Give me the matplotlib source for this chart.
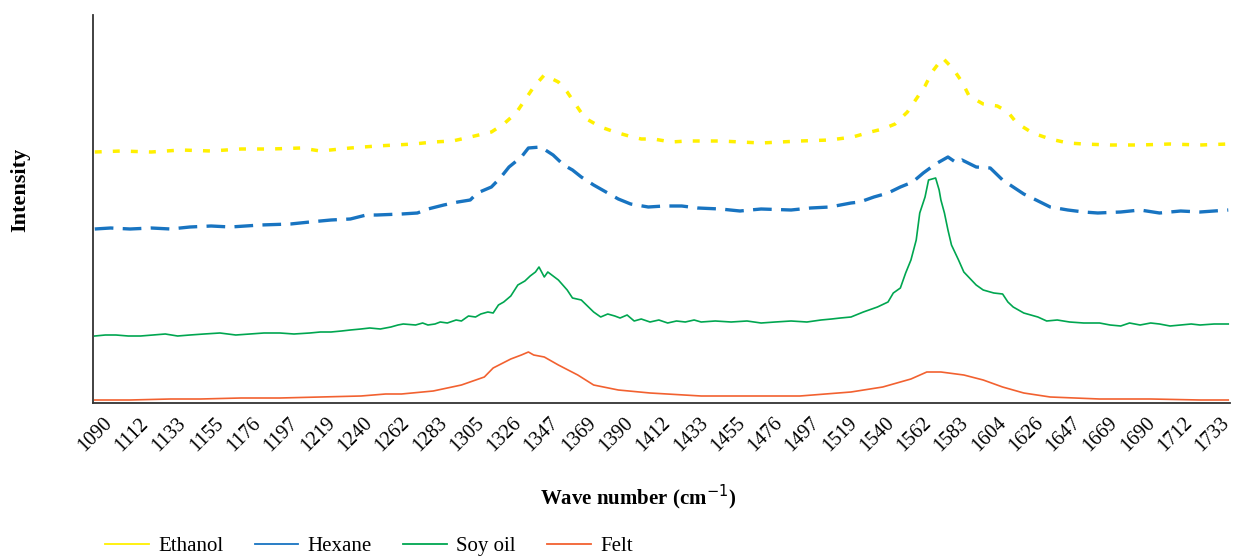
import matplotlib
matplotlib.use("Agg")
import matplotlib.pyplot as plt
from matplotlib.lines import Line2D
import numpy as np

plt.rcParams['font.family'] = ['Liberation Serif', 'DejaVu Serif']

tick_labels = ["1090", "1112", "1133", "1155", "1176", "1197", "1219", "1240", "1262", "1283",
               "1305", "1326", "1347", "1369", "1390", "1412", "1433", "1455", "1476", "1497",
               "1519", "1540", "1562", "1583", "1604", "1626", "1647", "1669", "1690", "1712", "1733"]

ethanol_wn = [1090, 1105, 1122, 1139, 1156, 1173, 1190, 1207, 1218, 1235, 1250, 1271, 1282, 1293,
              1303, 1315, 1322, 1329, 1334, 1339, 1345, 1353, 1358, 1363, 1368, 1377, 1385, 1393,
              1400, 1407, 1417, 1426, 1445, 1468, 1490, 1507, 1520, 1530, 1537, 1544, 1551, 1556,
              1561, 1565, 1571, 1577, 1582, 1586, 1594, 1602, 1608, 1613, 1622, 1632, 1642, 1651,
              1666, 1683, 1700, 1717, 1733]
ethanol_int = [249, 250, 249, 251, 250, 252, 252, 253, 250, 253, 255, 257, 259, 260,
               264, 269, 277, 288, 301, 314, 326, 319, 309, 296, 283, 274, 269, 265,
               262, 262, 259, 260, 260, 258, 260, 261, 264, 269, 272, 277, 289, 302,
               315, 329, 343, 332, 319, 305, 297, 295, 289, 278, 268, 262, 258, 257,
               256, 256, 257, 256, 257]

hexane_wn = [1090, 1099, 1110, 1122, 1133, 1144, 1156, 1167, 1184, 1201, 1212, 1224, 1235, 1244,
             1250, 1264, 1273, 1279, 1288, 1296, 1303, 1307, 1315, 1320, 1325, 1332, 1336, 1343,
             1350, 1356, 1361, 1366, 1373, 1381, 1387, 1394, 1404, 1413, 1423, 1432, 1445, 1456,
             1468, 1485, 1496, 1507, 1519, 1524, 1532, 1540, 1547, 1554, 1560, 1567, 1574, 1579,
             1582, 1590, 1598, 1605, 1611, 1617, 1624, 1632, 1642, 1651, 1659, 1672, 1683, 1694,
             1706, 1717, 1733]
hexane_int = [172, 173, 172, 173, 172, 174, 175, 174, 176, 177, 179, 181, 182, 186,
              186, 187, 188, 192, 196, 199, 201, 208, 214, 223, 234, 244, 253, 254,
              246, 236, 231, 224, 216, 208, 202, 197, 194, 195, 195, 193, 192, 190,
              192, 191, 193, 194, 198, 199, 204, 208, 214, 219, 228, 237, 244, 238,
              241, 234, 233, 221, 214, 207, 201, 194, 191, 189, 188, 189, 191, 188,
              190, 189, 191]

soy_wn = [1090, 1096, 1102, 1109, 1116, 1123, 1130, 1137, 1144, 1152, 1161, 1170, 1178, 1186,
          1195, 1203, 1212, 1218, 1224, 1230, 1235, 1241, 1246, 1252, 1258, 1262, 1265,
          1272, 1276, 1279, 1283, 1286, 1290, 1295, 1298, 1302, 1306, 1309, 1313, 1316,
          1319, 1322, 1326, 1330, 1334, 1337, 1340, 1342,
          1345, 1347, 1353, 1358, 1361, 1366, 1373, 1377, 1381, 1385, 1388, 1392, 1396, 1400,
          1405, 1410, 1415, 1420, 1425, 1430,
          1434, 1442, 1451, 1460, 1468, 1476, 1485, 1494, 1502, 1508, 1513, 1519, 1526, 1534,
          1540, 1543, 1547, 1550, 1553,
          1556, 1558, 1561, 1563, 1567, 1569, 1570, 1572, 1574, 1576, 1580, 1583, 1590, 1594,
          1600, 1605, 1608, 1611, 1617, 1625, 1630, 1636, 1643, 1651, 1660, 1666, 1672, 1677,
          1683, 1689, 1694, 1700, 1706, 1712, 1717, 1725, 1733]
soy_int = [65, 66, 66, 65, 65, 66, 67, 65, 66, 67, 68, 66, 67, 68,
           68, 67, 68, 69, 69, 70, 71, 72, 73, 72, 74, 76, 77,
           76, 78, 76, 77, 79, 78, 81, 80, 85, 84, 87, 89, 88,
           96, 99, 105, 116, 120, 125, 129, 134,
           124, 129, 121, 111, 103, 101, 89, 84, 87, 85, 83, 86, 80, 82,
           79, 81, 78, 80, 79, 81,
           79, 80, 79, 80, 78, 79, 80, 79, 81, 82, 83, 84, 89, 94,
           99, 108, 113, 128, 141,
           161, 188, 204, 221, 223, 211, 201, 188, 171, 156, 141, 129, 116, 111,
           108, 107, 99, 94, 88, 84, 80, 81, 79, 78, 78, 76, 75, 78,
           76, 78, 77, 75, 76, 77, 76, 77, 77]

felt_wn = [1090, 1110, 1133, 1150, 1173, 1195, 1218, 1241, 1255, 1264, 1282, 1298, 1311, 1316,
           1326, 1332, 1336, 1339, 1345, 1353, 1364, 1373, 1387, 1405, 1434, 1462, 1490, 1519,
           1537, 1553, 1562, 1570, 1583, 1594, 1605, 1617, 1632, 1660, 1689, 1717, 1733]
felt_int = [1, 1, 2, 2, 3, 3, 4, 5, 7, 7, 10, 16, 24, 33,
            42, 46, 49, 46, 44, 36, 26, 16, 11, 8, 5, 5, 5, 9,
            14, 22, 29, 29, 26, 21, 14, 8, 4, 2, 2, 1, 1]

series_names = ["Ethanol", "Hexane", "Soy oil", "Felt"]
colors = ["#FFF000", "#1874C1", "#00A650", "#F26130"]

fig = plt.figure(figsize=(12.33, 5.56), dpi=100)
ax = fig.add_axes([93/1233, 1-403/556, (1230-93)/1233, (403-15)/556])

ax.plot(ethanol_wn, ethanol_int, color=colors[0], lw=2.5, dashes=(2.0, 3.2), dash_capstyle='butt')
ax.plot(hexane_wn, hexane_int, color=colors[1], lw=2.4, dashes=(5.6, 2.8), dash_capstyle='butt')
ax.plot(soy_wn, soy_int, color=colors[2], lw=1.2)
ax.plot(felt_wn, felt_int, color=colors[3], lw=1.2)

ax.set_xlim(1089, 1734)
ax.set_ylim(-2, 386)
ax.set_yticks([])
# labels are spread evenly across the axis, last one kept inside the plot area
ax.set_xticks(np.linspace(1090, 1724, len(tick_labels)))
ax.set_xticklabels(tick_labels, rotation=45, ha='center', va='center', rotation_mode='anchor', fontsize=14.5)
ax.tick_params(axis='x', length=0, pad=23)
for s in ['top', 'right']:
    ax.spines[s].set_visible(False)
for s in ['left', 'bottom']:
    ax.spines[s].set_color('#333333')
    ax.spines[s].set_linewidth(1.3)

fig.text(638/1233, 1-497/556, "Wave number (cm$^{-1}$)", ha='center', va='center', fontsize=15, fontweight='bold')
fig.text(20/1233, 1-190/556, "Intensity", ha='center', va='center', rotation=90, fontsize=16, fontweight='bold')

handles = [Line2D([0], [0], color=c, lw=1.3) for c in colors]
fig.legend(handles, series_names, loc='center left', bbox_to_anchor=(105/1233, 1-546/556),
           ncol=4, frameon=False, fontsize=15, handlelength=2.1, handletextpad=0.45,
           columnspacing=1.5, borderaxespad=0, borderpad=0)

fig.savefig("out.png", dpi=100)
